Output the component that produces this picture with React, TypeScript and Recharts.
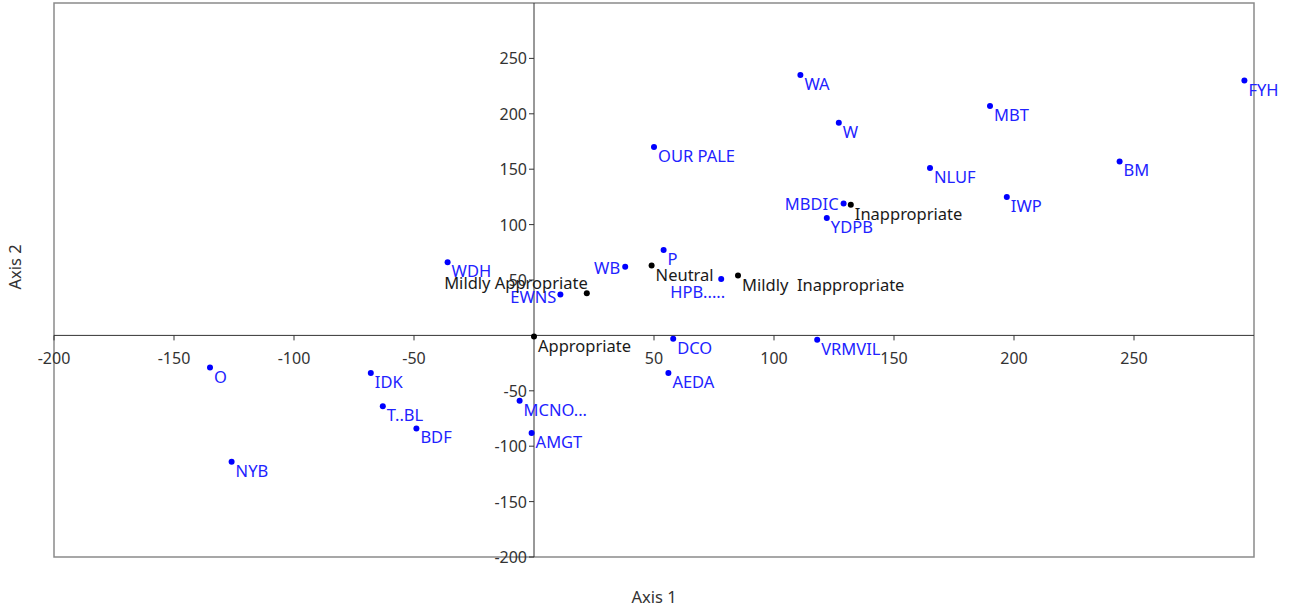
import {
  ReferenceArea,
  ReferenceDot,
  ReferenceLine,
  Scatter,
  ScatterChart,
  XAxis,
  YAxis,
} from "recharts";

// blue points: the answer terms
const termNames = [
  "FYH", "BM", "WA", "W", "MBT", "OUR PALE", "NLUF", "IWP", "MBDIC", "YDPB",
  "WDH", "EWNS", "WB", "P", "HPB.....", "DCO", "VRMVIL", "AEDA", "O", "IDK",
  "T..BL", "BDF", "NYB", "MCNO...", "AMGT",
];
const termX = [296, 244, 111, 127, 190, 50, 165, 197, 129, 122, -36, 11, 38, 54, 78, 58, 118, 56, -135, -68, -63, -49, -126, -6, -1];
const termY = [230, 157, 235, 192, 207, 170, 151, 125, 119, 106, 66, 37, 62, 77, 51, -3, -4, -34, -29, -34, -64, -84, -114, -59, -88];

// black points: the rating scale
const ratingNames = ["Inappropriate", "Mildly  Inappropriate", "Neutral", "Mildly Appropriate", "Appropriate"];
const ratingX = [132, 85, 49, 22, 0];
const ratingY = [118, 54, 63, 38, -1];

const xTicks = [-200, -150, -100, -50, 50, 100, 150, 200, 250];
const yTicks = [250, 200, 150, 100, 50, -50, -100, -150, -200];

const terms = termNames.map((name, i) => ({ name, x: termX[i], y: termY[i] }));
const ratings = ratingNames.map((name, i) => ({ name, x: ratingX[i], y: ratingY[i] }));

type Place = { anchor: "start" | "end"; dx: number; dy: number };
const defaultPlace: Place = { anchor: "start", dx: 4, dy: 15 };
// a few labels sit left of their dot
const places: Record<string, Place> = {
  MBDIC: { anchor: "end", dx: -5, dy: 6 },
  WB: { anchor: "end", dx: -5, dy: 7 },
  EWNS: { anchor: "end", dx: -4, dy: 9 },
  "HPB.....": { anchor: "end", dx: 4, dy: 19 },
  "Mildly Appropriate": { anchor: "end", dx: 1, dy: -4 },
};

const FONT = "'Noto Sans', 'Open Sans', sans-serif";
const AXIS = "#333";
const LABEL_SIZE = 16.5;
const TICK_SIZE = 16;

function pointShape(dot: string, ink: string) {
  return (props: any) => {
    const { cx, cy, payload } = props;
    const p = places[payload.name] ?? defaultPlace;
    return (
      <g>
        <circle cx={cx} cy={cy} r={3} fill={dot} />
        <text
          x={cx + p.dx}
          y={cy + p.dy}
          textAnchor={p.anchor}
          fill={ink}
          fontSize={LABEL_SIZE}
          fontFamily={FONT}
          style={{ whiteSpace: "pre" }}
        >
          {payload.name}
        </text>
      </g>
    );
  };
}

const xTick = (v: number) => (props: any) => (
  <g>
    <line x1={props.cx} y1={props.cy} x2={props.cx} y2={props.cy + 5} stroke={AXIS} />
    <text x={props.cx} y={props.cy + 29} textAnchor="middle" fill={AXIS} fontSize={TICK_SIZE} fontFamily={FONT}>
      {v}
    </text>
  </g>
);

const yTick = (v: number) => (props: any) => (
  <g>
    <line x1={props.cx - 5} y1={props.cy} x2={props.cx} y2={props.cy} stroke={AXIS} />
    <text x={props.cx - 7} y={props.cy + 6} textAnchor="end" fill={AXIS} fontSize={TICK_SIZE} fontFamily={FONT}>
      {v}
    </text>
  </g>
);

export default function App() {
  return (
    <div style={{ position: "absolute", left: 0, top: 0, fontFamily: FONT }}>
      <ScatterChart width={1294} height={611} margin={{ top: 3, right: 40, bottom: 0, left: 0 }}>
        <XAxis
          type="number"
          dataKey="x"
          domain={[-200, 300]}
          height={54}
          tick={false}
          tickLine={false}
          axisLine={false}
          label={{ value: "Axis 1", position: "insideBottom", offset: 8, fill: AXIS, fontSize: LABEL_SIZE }}
        />
        <YAxis
          type="number"
          dataKey="y"
          domain={[-200, 300]}
          width={54}
          tick={false}
          tickLine={false}
          axisLine={false}
          label={{
            content: (p: any) => {
              const vb = p.viewBox;
              const cx = vb.x + 14;
              const cy = vb.y + vb.height / 2 - 13;
              return (
                <text
                  x={cx}
                  y={cy}
                  transform={`rotate(-90, ${cx}, ${cy})`}
                  textAnchor="middle"
                  dominantBaseline="central"
                  fill={AXIS}
                  fontSize={LABEL_SIZE}
                  fontFamily={FONT}
                >
                  Axis 2
                </text>
              );
            },
          }}
        />
        <ReferenceArea x1={-200} x2={300} y1={-200} y2={300} fill="none" stroke="#8a8a8a" strokeWidth={1.5} ifOverflow="visible" />
        <ReferenceLine x={0} stroke={AXIS} strokeWidth={1} />
        <ReferenceLine y={0} stroke={AXIS} strokeWidth={1} />
        {xTicks.map((v) => (
          <ReferenceDot key={`x${v}`} x={v} y={0} r={0} ifOverflow="visible" shape={xTick(v)} />
        ))}
        {yTicks.map((v) => (
          <ReferenceDot key={`y${v}`} x={0} y={v} r={0} ifOverflow="visible" shape={yTick(v)} />
        ))}
        <Scatter data={terms} isAnimationActive={false} shape={pointShape("#0000ff", "#2222ff")} />
        <Scatter data={ratings} isAnimationActive={false} shape={pointShape("#000", "#1a1a1a")} />
      </ScatterChart>
    </div>
  );
}
